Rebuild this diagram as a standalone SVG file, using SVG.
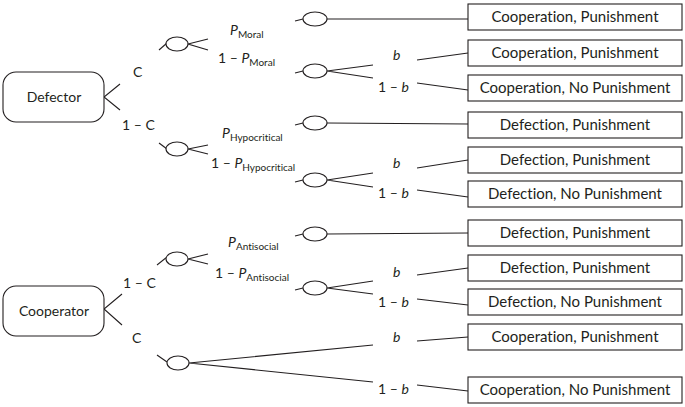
<svg xmlns="http://www.w3.org/2000/svg" width="685" height="407" viewBox="0 0 685 407">
<style>
  .ln{stroke:#231f20;stroke-width:1.1;fill:none}
  .box{fill:#fff;stroke:#231f20;stroke-width:1.1}
  .ch{fill:#fff;stroke:#231f20;stroke-width:1.1}
  text{font-family:Lato,"Noto Sans","Liberation Sans",sans-serif;font-size:14px;fill:#231f20;font-variant-ligatures:none}
  .bt{text-anchor:middle}
  .ot{font-size:15px}
  .i{font-style:italic}
  .sub{font-size:10px}
</style>
<rect width="685" height="407" fill="#fff"/>
<g id="connectors">
  <path class="ln" d="M120,84 L104,97 L120,110"/>
  <path class="ln" d="M122,294 L104,309 L122,325"/>
  <path class="ln" d="M159,50 L167,43"/>
  <path class="ln" d="M159,143 L167,149"/>
  <path class="ln" d="M157,265 L167,257"/>
  <path class="ln" d="M157,355 L167,362"/>
  <path class="ln" d="M208,39 L188,44 L208,50"/>
  <path class="ln" d="M208,145 L188,149 L208,154"/>
  <path class="ln" d="M208,254 L188,259 L208,264"/>
  <path class="ln" d="M373,345 L189,363 L373,382"/>
  <path class="ln" d="M295,21 L303,19"/>
  <path class="ln" d="M295,73 L303,71"/>
  <path class="ln" d="M295,125 L303,123"/>
  <path class="ln" d="M295,182 L303,180"/>
  <path class="ln" d="M295,236 L303,234"/>
  <path class="ln" d="M295,290 L303,288"/>
  <path class="ln" d="M327,19 L468,19"/>
  <path class="ln" d="M327,123 L468,124"/>
  <path class="ln" d="M327,234 L468,233"/>
  <path class="ln" d="M373,65 L327,71 L373,78"/>
  <path class="ln" d="M373,173 L327,180 L373,187"/>
  <path class="ln" d="M373,281 L327,288 L373,294"/>
  <path class="ln" d="M417,60 L468,53"/>
  <path class="ln" d="M417,83 L468,90"/>
  <path class="ln" d="M417,168 L468,160"/>
  <path class="ln" d="M417,190 L468,197"/>
  <path class="ln" d="M417,275 L468,268"/>
  <path class="ln" d="M417,299 L468,305"/>
  <path class="ln" d="M417,341 L468,337"/>
  <path class="ln" d="M417,385 L468,391"/>
</g>
<g id="defector"><rect class="box" x="3" y="72" width="101" height="50" rx="13"/><text class="bt" x="54" y="102">Defector</text></g>
<g id="cooperator"><rect class="box" x="3" y="286" width="101" height="50" rx="13"/><text class="bt" x="54" y="316">Cooperator</text></g>
<g id="chance-moral"><ellipse class="ch" cx="177" cy="44" rx="11" ry="7"/></g>
<g id="chance-hypo"><ellipse class="ch" cx="177" cy="149" rx="11" ry="7"/></g>
<g id="chance-anti"><ellipse class="ch" cx="177" cy="259" rx="11" ry="7"/></g>
<g id="chance-coopC"><ellipse class="ch" cx="178" cy="363" rx="11" ry="7"/></g>
<g id="chance-m1"><ellipse class="ch" cx="315" cy="19" rx="12" ry="7"/></g>
<g id="chance-m2"><ellipse class="ch" cx="315" cy="71" rx="12" ry="7"/></g>
<g id="chance-h1"><ellipse class="ch" cx="315" cy="123" rx="12" ry="7"/></g>
<g id="chance-h2"><ellipse class="ch" cx="315" cy="180" rx="12" ry="7"/></g>
<g id="chance-a1"><ellipse class="ch" cx="315" cy="234" rx="12" ry="7"/></g>
<g id="chance-a2"><ellipse class="ch" cx="315" cy="288" rx="12" ry="7"/></g>
<g id="labels">
  <text x="133" y="77">C</text>
  <text x="122" y="130">1 – C</text>
  <text x="123" y="288">1 – C</text>
  <text x="132" y="343">C</text>
  <text x="230" y="35"><tspan class="i">P</tspan><tspan class="sub" dy="3">Moral</tspan></text>
  <text x="218" y="63">1 – <tspan class="i">P</tspan><tspan class="sub" dy="3">Moral</tspan></text>
  <text x="222" y="138"><tspan class="i">P</tspan><tspan class="sub" dy="3">Hypocritical</tspan></text>
  <text x="211" y="168">1 – <tspan class="i">P</tspan><tspan class="sub" dy="3">Hypocritical</tspan></text>
  <text x="228" y="247"><tspan class="i">P</tspan><tspan class="sub" dy="3">Antisocial</tspan></text>
  <text x="215" y="278">1 – <tspan class="i">P</tspan><tspan class="sub" dy="3">Antisocial</tspan></text>
  <text class="i" x="393" y="60">b</text>
  <text x="378" y="92">1 – <tspan class="i">b</tspan></text>
  <text class="i" x="393" y="168">b</text>
  <text x="378" y="198">1 – <tspan class="i">b</tspan></text>
  <text class="i" x="393" y="277">b</text>
  <text x="378" y="307">1 – <tspan class="i">b</tspan></text>
  <text class="i" x="393" y="342">b</text>
  <text x="378" y="394">1 – <tspan class="i">b</tspan></text>
</g>
<g id="out1"><rect class="box" x="468" y="4" width="214" height="26"/><text class="bt ot" x="575" y="22">Cooperation, Punishment</text></g>
<g id="out2"><rect class="box" x="468" y="40" width="214" height="26"/><text class="bt ot" x="575" y="58">Cooperation, Punishment</text></g>
<g id="out3"><rect class="box" x="468" y="75" width="214" height="26"/><text class="bt ot" x="575" y="93">Cooperation, No Punishment</text></g>
<g id="out4"><rect class="box" x="468" y="112" width="214" height="26"/><text class="bt ot" x="575" y="130">Defection, Punishment</text></g>
<g id="out5"><rect class="box" x="468" y="147" width="214" height="26"/><text class="bt ot" x="575" y="165">Defection, Punishment</text></g>
<g id="out6"><rect class="box" x="468" y="181" width="214" height="26"/><text class="bt ot" x="575" y="199">Defection, No Punishment</text></g>
<g id="out7"><rect class="box" x="468" y="220" width="214" height="26"/><text class="bt ot" x="575" y="238">Defection, Punishment</text></g>
<g id="out8"><rect class="box" x="468" y="255" width="214" height="26"/><text class="bt ot" x="575" y="273">Defection, Punishment</text></g>
<g id="out9"><rect class="box" x="468" y="289" width="214" height="26"/><text class="bt ot" x="575" y="307">Defection, No Punishment</text></g>
<g id="out10"><rect class="box" x="468" y="324" width="214" height="26"/><text class="bt ot" x="575" y="342">Cooperation, Punishment</text></g>
<g id="out11"><rect class="box" x="468" y="377" width="214" height="26"/><text class="bt ot" x="575" y="395">Cooperation, No Punishment</text></g>
</svg>
